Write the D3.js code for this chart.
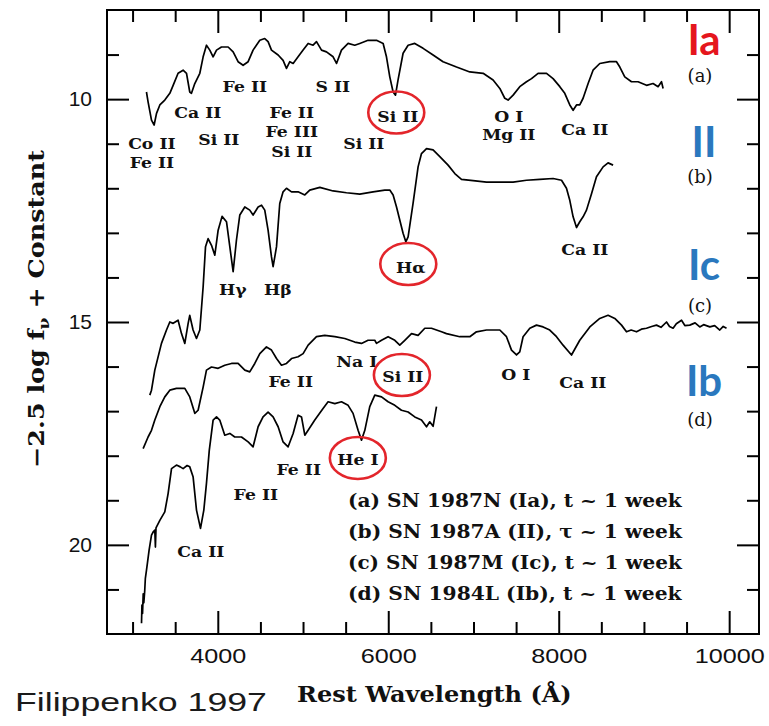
<!DOCTYPE html>
<html>
<head>
<meta charset="utf-8">
<script src="https://cdn.jsdelivr.net/npm/d3@7"></script>
<style>
  body { margin: 0; background: #fff; }
  text { white-space: pre; }
</style>
</head>
<body>
<div id="chart"></div>
<script>
// spectra: [rest wavelength (A), -2.5 log f + const]
const specIa = [[3163,9.84],[3182,10.06],[3222,10.47],[3253,10.58],[3281,10.32],[3320,10.13],[3378,10.02],[3437,9.87],[3476,9.69],[3534,9.42],[3593,9.35],[3633,9.42],[3671,9.84],[3691,9.87],[3730,9.65],[3789,9.42],[3828,9.05],[3867,8.79],[3906,8.90],[3945,9.05],[3985,8.90],[4043,8.83],[4121,8.83],[4180,8.94],[4238,9.16],[4297,9.24],[4356,9.16],[4414,8.90],[4493,8.68],[4551,8.64],[4590,8.71],[4630,8.90],[4708,9.01],[4766,9.13],[4806,9.31],[4845,9.16],[4884,9.20],[4942,9.05],[5001,8.90],[5060,8.75],[5118,8.79],[5158,8.71],[5217,8.90],[5275,8.94],[5353,9.05],[5393,9.20],[5451,8.90],[5529,8.75],[5607,8.79],[5666,8.75],[5763,8.68],[5862,8.68],[5940,8.75],[5979,9.05],[6018,9.50],[6057,9.84],[6085,9.91],[6115,9.57],[6174,8.97],[6233,8.79],[6311,8.75],[6409,8.86],[6526,9.01],[6643,9.16],[6801,9.28],[6957,9.39],[7113,9.42],[7230,9.57],[7309,9.76],[7367,9.98],[7406,10.02],[7465,9.91],[7543,9.72],[7622,9.61],[7681,9.54],[7758,9.42],[7857,9.42],[7934,9.54],[8013,9.72],[8071,9.87],[8130,10.13],[8169,10.25],[8209,10.13],[8247,10.13],[8286,9.98],[8345,9.65],[8403,9.35],[8482,9.20],[8599,9.16],[8678,9.16],[8717,9.28],[8775,9.50],[8854,9.61],[8931,9.61],[9030,9.69],[9107,9.65],[9166,9.72],[9206,9.61],[9225,9.76]];

const specII = [[3202,16.64],[3222,16.53],[3261,16.08],[3339,15.48],[3398,15.18],[3437,15.00],[3476,15.03],[3534,14.96],[3574,15.26],[3613,15.48],[3652,15.03],[3671,14.85],[3710,15.18],[3750,15.37],[3789,15.18],[3828,14.21],[3856,13.31],[3886,13.13],[3926,13.28],[3965,13.50],[4004,12.94],[4050,12.63],[4102,12.75],[4141,13.31],[4180,13.87],[4219,13.16],[4258,12.60],[4317,12.42],[4375,12.49],[4414,12.60],[4473,12.42],[4513,12.38],[4551,12.49],[4590,12.94],[4630,13.54],[4649,13.76],[4689,13.31],[4727,12.34],[4766,12.08],[4806,12.00],[4865,12.08],[4942,12.08],[5021,12.15],[5079,12.04],[5197,11.98],[5353,12.06],[5510,12.10],[5666,12.13],[5822,12.08],[5959,12.04],[6018,12.04],[6057,12.15],[6097,12.42],[6135,12.71],[6174,13.01],[6206,13.20],[6233,13.09],[6291,12.34],[6350,11.52],[6390,11.22],[6449,11.11],[6526,11.14],[6605,11.29],[6702,11.48],[6781,11.67],[6859,11.80],[6995,11.83],[7153,11.86],[7309,11.86],[7465,11.86],[7622,11.82],[7778,11.80],[7934,11.78],[8033,11.82],[8091,12.00],[8130,12.27],[8169,12.64],[8209,12.88],[8247,12.75],[8286,12.64],[8326,12.49],[8385,12.12],[8443,11.74],[8521,11.52],[8579,11.43],[8638,11.48]];

const specIc = [[3124,17.84],[3182,17.58],[3222,17.43],[3261,17.20],[3320,16.90],[3378,16.68],[3437,16.53],[3515,16.49],[3613,16.49],[3671,16.68],[3730,17.05],[3769,16.98],[3828,16.46],[3867,16.08],[3926,16.01],[4004,16.04],[4082,15.97],[4161,15.93],[4238,15.93],[4317,16.08],[4375,16.12],[4434,15.93],[4493,15.71],[4571,15.56],[4630,15.63],[4689,15.82],[4747,15.97],[4806,15.93],[4865,15.82],[4942,15.78],[5001,15.71],[5060,15.52],[5158,15.33],[5255,15.30],[5373,15.33],[5490,15.37],[5607,15.45],[5686,15.48],[5763,15.41],[5842,15.41],[5862,15.48],[5921,15.41],[5998,15.33],[6077,15.41],[6135,15.52],[6194,15.41],[6273,15.26],[6350,15.30],[6429,15.14],[6507,15.14],[6625,15.22],[6683,15.26],[6839,15.33],[6957,15.33],[7035,15.22],[7153,15.18],[7309,15.18],[7387,15.33],[7446,15.63],[7505,15.74],[7543,15.67],[7582,15.33],[7661,15.14],[7739,15.07],[7817,15.11],[7895,15.18],[7974,15.33],[8051,15.52],[8150,15.74],[8247,15.41],[8365,15.11],[8482,14.92],[8579,14.85],[8658,14.92],[8737,15.07],[8795,15.22],[8850,15.18],[8913,15.22],[8970,15.16],[9030,15.14],[9090,15.10],[9147,15.07],[9200,15.12],[9265,15.00],[9300,15.10],[9342,15.14],[9380,15.04],[9441,14.96],[9480,15.08],[9538,15.07],[9600,15.02],[9655,15.11],[9700,15.06],[9773,15.11],[9830,15.08],[9890,15.18],[9930,15.10],[9969,15.14]];

const specIb = [[3105,21.76],[3110,21.35],[3117,21.54],[3125,21.10],[3132,21.30],[3143,21.02],[3150,20.75],[3163,20.57],[3175,20.40],[3194,20.12],[3222,19.78],[3245,19.70],[3261,19.67],[3268,20.05],[3275,19.62],[3320,19.45],[3378,19.26],[3417,18.85],[3457,18.29],[3515,18.21],[3560,18.25],[3593,18.29],[3640,18.22],[3671,18.25],[3710,18.47],[3750,19.22],[3797,19.63],[3836,19.22],[3867,18.62],[3900,17.88],[3945,17.20],[3985,17.13],[4023,17.20],[4082,17.54],[4141,17.50],[4199,17.58],[4278,17.58],[4356,17.69],[4414,17.80],[4473,17.35],[4531,17.13],[4590,17.02],[4649,17.13],[4708,17.35],[4766,17.69],[4825,17.80],[4884,17.50],[4942,17.09],[4982,17.13],[5021,17.54],[5060,17.43],[5138,17.20],[5235,16.94],[5294,16.79],[5373,16.83],[5451,16.79],[5529,16.87],[5587,17.05],[5646,17.43],[5686,17.65],[5725,17.43],[5783,16.90],[5842,16.64],[5921,16.68],[5998,16.79],[6077,16.87],[6155,16.98],[6233,17.02],[6311,17.13],[6390,17.20],[6449,17.35],[6487,17.24],[6526,17.34],[6566,16.90]];

// ticks
const xMajor = [4000, 6000, 8000, 10000];
const xMinor = [3000, 3500, 4500, 5000, 5500, 6500, 7000, 7500, 8500, 9000, 9500];
const yMajor = [10, 15, 20];
const yMinor = [9, 11, 12, 13, 14, 16, 17, 18, 19, 21];

// line identifications (wavelength, magnitude of the label baseline)
const lineLabels = [
  {t: "Fe II", w: 4317, m: 9.84}, {t: "S II", w: 5349, m: 9.84},
  {t: "Ca II", w: 3765, m: 10.43}, {t: "Fe II", w: 4868, m: 10.43},
  {t: "Fe III", w: 4868, m: 10.85}, {t: "Si II", w: 4868, m: 11.30},
  {t: "Si II", w: 4012, m: 11.03}, {t: "Co II", w: 3226, m: 11.12},
  {t: "Fe II", w: 3226, m: 11.55}, {t: "Si II", w: 5713, m: 11.12},
  {t: "Si II", w: 6112, m: 10.52}, {t: "O I", w: 7414, m: 10.52},
  {t: "Mg II", w: 7414, m: 10.92}, {t: "Ca II", w: 8306, m: 10.81},
  {t: "Hγ", w: 4176, m: 14.40}, {t: "Hβ", w: 4704, m: 14.40},
  {t: "Hα", w: 6264, m: 13.90}, {t: "Ca II", w: 8306, m: 13.50},
  {t: "Na I", w: 5631, m: 16.01}, {t: "Si II", w: 6170, m: 16.35},
  {t: "Fe II", w: 4856, m: 16.46}, {t: "O I", w: 7496, m: 16.30},
  {t: "Ca II", w: 8283, m: 16.48}, {t: "Fe II", w: 4950, m: 18.44},
  {t: "He I", w: 5643, m: 18.21}, {t: "Fe II", w: 4446, m: 19.00},
  {t: "Ca II", w: 3801, m: 20.28}
];

// red circles around the defining features
const circled = [
  {w: 6094, m: 10.30}, {w: 6235, m: 13.70}, {w: 6160, m: 16.19}, {w: 5643, m: 18.05}
];

const legendLines = [
  "(a) SN 1987N (Ia), t ~ 1 week",
  "(b) SN 1987A (II), τ ~ 1 week",
  "(c) SN 1987M (Ic), t ~ 1 week",
  "(d) SN 1984L (Ib), t ~ 1 week"
];

const typeTags = [
  {big: "Ia", small: "(a)", color: "#e5161d"},
  {big: "II", small: "(b)", color: "#2a78be"},
  {big: "Ic", small: "(c)", color: "#2a78be"},
  {big: "Ib", small: "(d)", color: "#2a78be"}
];

const W = 769, H = 726;
const svg = d3.select("#chart").append("svg")
  .attr("width", W)
  .attr("height", H);

let x = d3.scaleLinear().domain([2700, 10350]).range([107, 759]);
let y = d3.scaleLinear().domain([8, 22]).range([10, 634]);

// squeeze / stretch a text to a given width
function fit(sel, width, tx, ty, rot) {
  const len = sel.node().getComputedTextLength();
  const k = width / len;
  sel.attr("transform", `translate(${tx},${ty})` + (rot ? ` rotate(${rot})` : "") + ` scale(${k},1)`);
}

function axis(gen, tr) {
  let g = svg.append("g").attr("transform", tr).call(gen);
  g.select(".domain").remove();
  g.selectAll("line").attr("stroke", "#000").attr("stroke-width", 2);
  return g;
}

// ticks all point inwards
axis(d3.axisBottom(x).tickValues(xMinor).tickSize(-12).tickFormat(""), "translate(0,634)");
axis(d3.axisTop(x).tickValues(xMinor).tickSize(-12).tickFormat(""), "translate(0,10)");
axis(d3.axisTop(x).tickValues(xMajor).tickSize(-23).tickFormat(""), "translate(0,10)");
axis(d3.axisLeft(y).tickValues(yMinor).tickSize(-12).tickFormat(""), "translate(107,0)");
axis(d3.axisRight(y).tickValues(yMinor).tickSize(-12).tickFormat(""), "translate(759,0)");
axis(d3.axisRight(y).tickValues(yMajor).tickSize(-22).tickFormat(""), "translate(759,0)");

let xb = axis(d3.axisBottom(x).tickValues(xMajor).tickSize(-23).tickFormat(d3.format("d")), "translate(0,634)");
xb.selectAll("text")
  .attr("y", 29).attr("dy", null)
  .attr("transform", "scale(1.2,1)")
  .attr("fill", "#111")
  .style("font-family", "'Liberation Sans', Arial, sans-serif")
  .style("font-size", "21px");

let yb = axis(d3.axisLeft(y).tickValues(yMajor).tickSize(-22).tickPadding(15), "translate(107,0)");
yb.selectAll("text")
  .attr("fill", "#111")
  .style("font-family", "'Liberation Sans', Arial, sans-serif")
  .style("font-size", "21px");

svg.append("rect")
  .attr("x", 107).attr("y", 10)
  .attr("width", 652).attr("height", 624)
  .attr("fill", "none")
  .attr("stroke", "#000")
  .attr("stroke-width", 2);

// spectra
const line = d3.line().x(d => x(d[0])).y(d => y(d[1]));
svg.selectAll(".spec")
  .data([specIa, specII, specIc, specIb])
  .enter()
  .append("path")
  .attr("class", "spec")
  .attr("d", line)
  .attr("fill", "none")
  .attr("stroke", "#000")
  .attr("stroke-width", 1.7)
  .attr("stroke-linejoin", "round");

// line ids
svg.selectAll(".lbl")
  .data(lineLabels)
  .enter()
  .append("text")
  .attr("class", "lbl")
  .attr("transform", d => `translate(${x(d.w)},${y(d.m)}) scale(1.15,1)`)
  .attr("text-anchor", "middle")
  .attr("fill", "#111")
  .style("font-family", "'DejaVu Serif', serif")
  .style("font-weight", "bold")
  .style("font-size", "15px")
  .text(d => d.t.replace(" ", "\u00a0"));

svg.selectAll(".ring")
  .data(circled)
  .enter()
  .append("ellipse")
  .attr("class", "ring")
  .attr("cx", d => x(d.w))
  .attr("cy", d => y(d.m))
  .attr("rx", 28)
  .attr("ry", 21)
  .attr("fill", "none")
  .attr("stroke", "#e3252b")
  .attr("stroke-width", 2.6);

// legend block
legendLines.forEach((s, i) => {
  let t = svg.append("text")
    .attr("fill", "#111")
    .style("font-family", "'DejaVu Serif', serif")
    .style("font-weight", "bold")
    .style("font-size", "18.5px")
    .text(s);
  fit(t, 334, 348, 507 + i * 31);
});

// type tags on the right
const tagBase = [55, 157, 280, 396];
const tagSmall = [82, 183, 312, 426];
typeTags.forEach((d, i) => {
  svg.append("text")
    .attr("x", 704).attr("y", tagBase[i])
    .attr("text-anchor", "middle")
    .attr("fill", d.color)
    .style("font-family", "Lato, 'Open Sans', sans-serif")
    .style("font-weight", "bold")
    .style("font-size", "42px")
    .text(d.big);
  svg.append("text")
    .attr("x", 700).attr("y", tagSmall[i])
    .attr("text-anchor", "middle")
    .attr("fill", "#111")
    .style("font-family", "'DejaVu Serif', serif")
    .style("font-size", "18px")
    .text(d.small);
});

// axis titles
let yl = svg.append("text")
  .attr("text-anchor", "middle")
  .attr("fill", "#111")
  .style("font-family", "'DejaVu Serif', serif")
  .style("font-weight", "bold")
  .style("font-size", "22px");
yl.append("tspan").text("−2.5 log f");
yl.append("tspan").attr("dy", 5).style("font-size", "15px").text("ν");
yl.append("tspan").attr("dy", -5).text(" + Constant");
fit(yl, 318, 44, 309, -90);

let xl = svg.append("text")
  .attr("fill", "#111")
  .style("font-family", "'DejaVu Serif', serif")
  .style("font-weight", "bold")
  .style("font-size", "22px")
  .text("Rest Wavelength (Å)");
fit(xl, 275, 297, 702);

let cite = svg.append("text")
  .attr("fill", "#1a1a1a")
  .style("font-family", "'Liberation Sans', Arial, sans-serif")
  .style("font-size", "26px")
  .text("Filippenko 1997");
fit(cite, 252, 15, 711);
</script>
</body>
</html>
